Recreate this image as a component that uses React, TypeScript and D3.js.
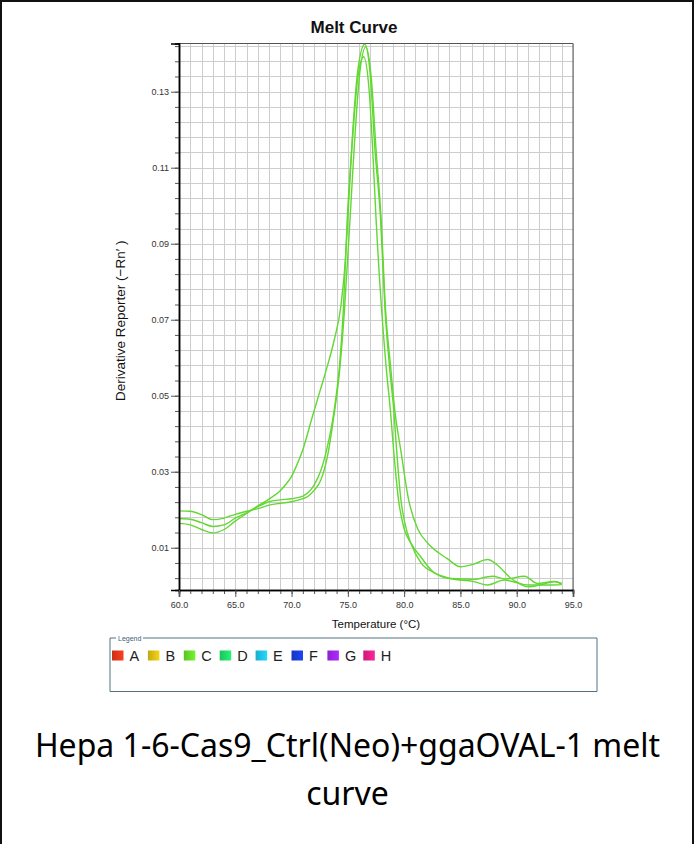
import React, { useRef, useEffect } from 'react';
import * as d3 from 'd3';

type Pt = [number, number];

// temperature (°C), derivative reporter
const wellC1: Pt[] = [
  [60, 0.0164], [61, 0.016], [62, 0.0148], [63, 0.0139], [64, 0.0148], [65, 0.017],
  [66, 0.019], [67, 0.021], [68, 0.0228], [69, 0.025], [69.5, 0.0267], [70, 0.0288],
  [70.5, 0.032], [71, 0.0358], [71.8, 0.044], [72.5, 0.051], [73.1, 0.057], [73.8, 0.0648],
  [74.4, 0.074], [74.8, 0.0865], [75.0, 0.0968], [75.4, 0.118], [75.9, 0.136], [76.5, 0.1425],
  [77.0, 0.134], [77.4, 0.115], [77.9, 0.0968], [78.3, 0.0726], [78.7, 0.0576], [79.1, 0.0454],
  [79.3, 0.037], [79.7, 0.023], [80.1, 0.016], [80.6, 0.0112], [81.5, 0.006], [82.6, 0.0035],
  [84.1, 0.0019], [86.2, 0.0011], [87.4, 0.0002], [88.9, 0.0015], [90.0, 0.0008], [91.0, -0.0003],
  [92.3, 0.0004], [93.4, 0.0011], [94.0, 0.0004],
];

const wellC2: Pt[] = [
  [60, 0.0177], [61, 0.0175], [62, 0.0166], [63, 0.0156], [64, 0.016], [65, 0.0178],
  [66, 0.0192], [67, 0.0208], [68, 0.0221], [69, 0.0226], [70, 0.0229], [71, 0.0236],
  [71.5, 0.0246], [72, 0.0265], [72.6, 0.0303], [73.15, 0.0362], [73.75, 0.0455], [74.25, 0.0576],
  [74.6, 0.0726], [74.95, 0.0968], [75.4, 0.117], [75.9, 0.134], [76.4, 0.1392], [76.9, 0.13],
  [77.2, 0.115], [77.5, 0.0968], [78.0, 0.0726], [78.4, 0.0576], [78.8, 0.0454], [79.0, 0.038],
  [79.5, 0.0226], [80.0, 0.015], [80.6, 0.0112], [81.5, 0.0075], [82.6, 0.0036], [84.1, 0.0019],
  [86.2, 0.0017], [87.85, 0.0025], [89.0, 0.0018], [90.7, 0.0025], [91.85, 0.0006], [93.3, 0.0011],
  [94.0, 0.0006],
];

const wellC3: Pt[] = [
  [60, 0.0197], [61, 0.0196], [62, 0.0187], [63, 0.0174], [64, 0.0178], [65, 0.0188],
  [66, 0.0196], [67, 0.0203], [68, 0.0212], [69, 0.0217], [70, 0.0221], [71, 0.0229],
  [71.5, 0.0236], [72, 0.0251], [72.6, 0.0278], [73.15, 0.0335], [73.75, 0.0445], [74.3, 0.0576],
  [74.7, 0.0726], [75.2, 0.0968], [75.6, 0.117], [76.1, 0.136], [76.6, 0.1418], [77.1, 0.133],
  [77.5, 0.115], [77.95, 0.0968], [78.35, 0.0726], [78.8, 0.0576], [79.2, 0.0454], [79.7, 0.0357],
  [80.4, 0.0226], [81.2, 0.015], [82.1, 0.0112], [83.0, 0.0088], [83.8, 0.0072], [85.0, 0.005],
  [86.2, 0.0057], [87.4, 0.0069], [88.3, 0.0054], [89.5, 0.0019], [91.0, 0.0002], [93.0, 0.0002],
  [94.0, 0.0003],
];

const wells = [wellC1, wellC2, wellC3];

const xTicks = [60, 65, 70, 75, 80, 85, 90, 95];
const yTicks = [0.01, 0.03, 0.05, 0.07, 0.09, 0.11, 0.13];
const legendLabels = ['A', 'B', 'C', 'D', 'E', 'F', 'G', 'H'];
const legendColors = ['#e3381c', '#dcbf16', '#68dc28', '#20dc6a', '#1ec4e6', '#1b3ddc', '#a024ee', '#e4208a'];
const captionLines = ['Hepa 1-6-Cas9_Ctrl(Neo)+ggaOVAL-1 melt', 'curve'];

const W = 694;
const H = 844;
const plot = { left: 179, right: 573, top: 43.5, bottom: 590 };
const arial = "Arial, 'Liberation Sans', sans-serif";

export default function App() {
  const ref = useRef<SVGSVGElement | null>(null);

  useEffect(() => {
    if (!ref.current) return;
    const svg = d3.select(ref.current);
    svg.selectAll('*').remove();

    const x = d3.scaleLinear().domain([60, 95]).range([plot.left, plot.right]);
    const y = d3.scaleLinear().domain([-0.00112, 0.14268]).range([plot.bottom, plot.top]);

    svg.append('rect').attr('width', W).attr('height', H).attr('fill', '#fff');

    // outer frame
    svg.append('path')
      .attr('d', `M1,${H} V1 H${W - 1} V${H}`)
      .attr('fill', 'none').attr('stroke', '#111').attr('stroke-width', 2);

    // grid
    const xMinor = d3.range(60, 96);
    const yMinor = d3.range(0, 36).map(i => 0.002 + i * 0.004);
    const grid = svg.append('g').attr('stroke', '#cdcdcd').attr('stroke-width', 1);
    xMinor.forEach(t => {
      grid.append('line')
        .attr('x1', Math.round(x(t)) + 0.5).attr('x2', Math.round(x(t)) + 0.5)
        .attr('y1', plot.top).attr('y2', plot.bottom);
    });
    yMinor.forEach(v => {
      grid.append('line')
        .attr('y1', Math.round(y(v)) + 0.5).attr('y2', Math.round(y(v)) + 0.5)
        .attr('x1', plot.left).attr('x2', plot.right);
    });

    // top / right border
    svg.append('path')
      .attr('d', `M${plot.left},${plot.top} H${plot.right} V${plot.bottom}`)
      .attr('fill', 'none').attr('stroke', '#555').attr('stroke-width', 1);

    // curves
    svg.append('clipPath').attr('id', 'plotclip')
      .append('rect')
      .attr('x', plot.left).attr('y', plot.top)
      .attr('width', plot.right - plot.left).attr('height', plot.bottom - plot.top);

    const line = d3.line<Pt>()
      .x(d => x(d[0]))
      .y(d => y(d[1]))
      .curve(d3.curveMonotoneX);

    svg.append('g').attr('clip-path', 'url(#plotclip)')
      .selectAll('path')
      .data(wells)
      .join('path')
      .attr('d', d => line(d))
      .attr('fill', 'none')
      .attr('stroke', '#62d832')
      .attr('stroke-width', 1.4);

    // axes
    const yAxisMinor = d3.axisLeft(y).tickValues(yMinor).tickSize(4).tickFormat(() => '');
    const yAxis = d3.axisLeft(y).tickValues(yTicks).tickSize(8).tickPadding(2)
      .tickFormat(d => d3.format('.2f')(d as number));
    const xAxisMinor = d3.axisBottom(x).tickValues(xMinor).tickSize(4).tickFormat(() => '');
    const xAxis = d3.axisBottom(x).tickValues(xTicks).tickSize(7).tickPadding(5)
      .tickFormat(d => d3.format('.1f')(d as number));

    const gy = svg.append('g').attr('transform', `translate(${plot.left},0)`);
    gy.append('g').call(yAxisMinor);
    gy.append('g').call(yAxis);
    const gx = svg.append('g').attr('transform', `translate(0,${plot.bottom})`);
    gx.append('g').call(xAxisMinor);
    gx.append('g').call(xAxis);

    svg.selectAll('.domain').attr('stroke', '#000').attr('stroke-width', 1.5);
    svg.selectAll('.tick line').attr('stroke', '#555');
    svg.selectAll('.tick text')
      .attr('font-family', arial).attr('font-size', 9).attr('fill', '#333');

    // titles
    svg.append('text')
      .attr('x', 354).attr('y', 33)
      .attr('text-anchor', 'middle')
      .attr('font-family', arial).attr('font-size', 17).attr('font-weight', 'bold')
      .attr('fill', '#111')
      .text('Melt Curve');

    svg.append('text')
      .attr('x', (plot.left + plot.right) / 2).attr('y', 628)
      .attr('text-anchor', 'middle')
      .attr('font-family', arial).attr('font-size', 11.5).attr('fill', '#111')
      .text('Temperature (°C)');

    svg.append('text')
      .attr('transform', `translate(125,${(plot.top + plot.bottom) / 2 + 4}) rotate(-90)`)
      .attr('text-anchor', 'middle')
      .attr('font-family', arial).attr('font-size', 13.5).attr('fill', '#111')
      .text('Derivative Reporter (−Rn′ )');

    // legend
    const lg = { left: 110, top: 638, right: 597, bottom: 691.5 };
    svg.append('path')
      .attr('d', `M116,${lg.top} H${lg.left} V${lg.bottom} H${lg.right} V${lg.top} H143`)
      .attr('fill', 'none').attr('stroke', '#55717e').attr('stroke-width', 1);
    svg.append('text')
      .attr('x', 118).attr('y', lg.top + 2.5)
      .attr('font-family', arial).attr('font-size', 7).attr('fill', '#44607a')
      .text('Legend');

    const defs = svg.append('defs');
    legendColors.forEach((c, i) => {
      const g = defs.append('linearGradient').attr('id', `sw${i}`);
      g.append('stop').attr('offset', '0%').attr('stop-color', d3.color(c)!.darker(0.35).formatHex());
      g.append('stop').attr('offset', '100%').attr('stop-color', d3.color(c)!.brighter(0.3).formatHex());
    });

    const items = svg.append('g')
      .selectAll('g')
      .data(legendLabels)
      .join('g')
      .attr('transform', (_, i) => `translate(${112 + i * 35.9},0)`);
    items.append('rect')
      .attr('x', 0).attr('y', 650.5)
      .attr('width', 11.5).attr('height', 10)
      .attr('fill', (_, i) => `url(#sw${i})`);
    items.append('text')
      .attr('x', 17.5).attr('y', 661)
      .attr('font-family', arial).attr('font-size', 14.5).attr('fill', '#222')
      .text(d => d);

    // caption
    svg.append('g')
      .selectAll('text')
      .data(captionLines)
      .join('text')
      .attr('x', 347.5)
      .attr('y', (_, i) => 757 + i * 48)
      .attr('text-anchor', 'middle')
      .attr('font-family', "'Noto Sans', 'Open Sans', sans-serif")
      .attr('font-size', 32)
      .attr('fill', '#000')
      .text(d => d);
  }, []);

  return (
    <svg
      ref={ref}
      width={W}
      height={H}
      style={{ position: 'absolute', left: 0, top: 0, display: 'block' }}
    />
  );
}
